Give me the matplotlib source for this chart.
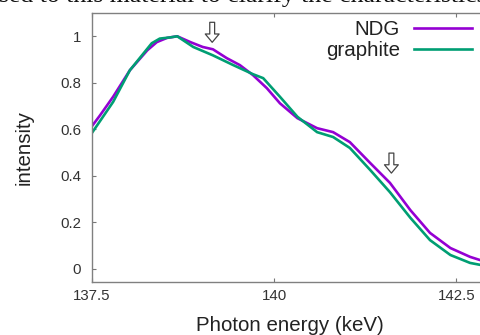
import numpy as np
import matplotlib
matplotlib.use("Agg")
from matplotlib import pyplot as plt
from matplotlib.ticker import FormatStrFormatter

plt.rcParams["font.family"] = ["Liberation Sans", "DejaVu Sans"]

# photon energy (keV) and normalised intensity
energy_ndg = [137.50, 137.61, 137.79, 138.02, 138.26, 138.39, 138.53, 138.67,
              138.85, 139.02, 139.16, 139.35, 139.53, 139.71, 139.90, 140.08,
              140.32, 140.59, 140.81, 141.04, 141.32, 141.59, 141.87, 142.14,
              142.42, 142.69, 142.84]
ndg = [0.614, 0.66, 0.74, 0.854, 0.94, 0.975, 0.993, 1.0,
       0.975, 0.954, 0.944, 0.906, 0.876, 0.833, 0.777, 0.712,
       0.648, 0.605, 0.588, 0.545, 0.455, 0.37, 0.253, 0.155,
       0.09, 0.052, 0.037]

energy_gra = [137.50, 137.79, 138.02, 138.32, 138.43, 138.57, 138.67, 138.89,
              139.16, 139.44, 139.71, 139.85, 140.08, 140.32, 140.59, 140.81,
              141.04, 141.32, 141.59, 141.87, 142.14, 142.42, 142.69, 142.84]
graphite = [0.585, 0.718, 0.854, 0.97, 0.99, 0.995, 1.0, 0.954,
            0.918, 0.876, 0.837, 0.82, 0.74, 0.654, 0.588, 0.567,
            0.52, 0.425, 0.33, 0.22, 0.124, 0.06, 0.026, 0.017]

xticks = [137.5, 140, 142.5]
yticks = [0, 0.2, 0.4, 0.6, 0.8, 1]
arrow_x = [139.15, 141.61]
arrow_tip = [0.974, 0.412]

fig = plt.figure(figsize=(4.81, 3.35), dpi=100)
ax = fig.add_axes([92 / 481, 1 - 282 / 335, 389 / 481, 269 / 335])

ax.plot(energy_ndg, ndg, color="#9400D3", lw=1.9, label="NDG")
ax.plot(energy_gra, graphite, color="#009E73", lw=1.9, label="graphite")

for x, y in zip(arrow_x, arrow_tip):
    ax.annotate("", xy=(x, y), xytext=(x, y + 0.086),
                arrowprops=dict(arrowstyle="simple,head_width=1.0,head_length=0.6,tail_width=0.35",
                                fc="white", ec="#444444", lw=0.9, shrinkA=0, shrinkB=0,
                                mutation_scale=10))

ax.set_xlim(137.5, 142.84)
ax.set_ylim(-0.056, 1.10)
ax.set_xticks(xticks)
ax.set_yticks(yticks)
ax.xaxis.set_major_formatter(FormatStrFormatter("%g"))
ax.yaxis.set_major_formatter(FormatStrFormatter("%g"))
ax.tick_params(direction="in", length=3, width=0.8, color="#777777",
               labelsize=10.8, labelcolor="#333333", top=True)
ax.tick_params(axis="y", pad=8)
ax.tick_params(axis="x", pad=5)
for s in ax.spines.values():
    s.set_color("#808080")
    s.set_linewidth(1.0)

ax.set_xlabel("Photon energy (keV)", fontsize=14.8, color="#222222")
ax.set_ylabel("intensity", fontsize=14.8, color="#222222")
ax.xaxis.set_label_coords(0.509, -0.125)
ax.yaxis.set_label_coords(-0.15, 0.5)

leg = ax.legend(loc="upper right", bbox_to_anchor=(472 / 481, 1 - 20 / 335),
                bbox_transform=fig.transFigure, frameon=False, markerfirst=False,
                fontsize=14.8, handlelength=2.8, handletextpad=0.7,
                labelspacing=0.12, borderpad=0, borderaxespad=0)
for t in leg.get_texts():
    t.set_color("#222222")

fig.text(-0.003, 1 - 2 / 335, "sed to this material to clarify the characteristics",
         family="Liberation Serif", fontsize=18.5, va="baseline", ha="left", color="#111111")

fig.savefig("out.png", dpi=100)
